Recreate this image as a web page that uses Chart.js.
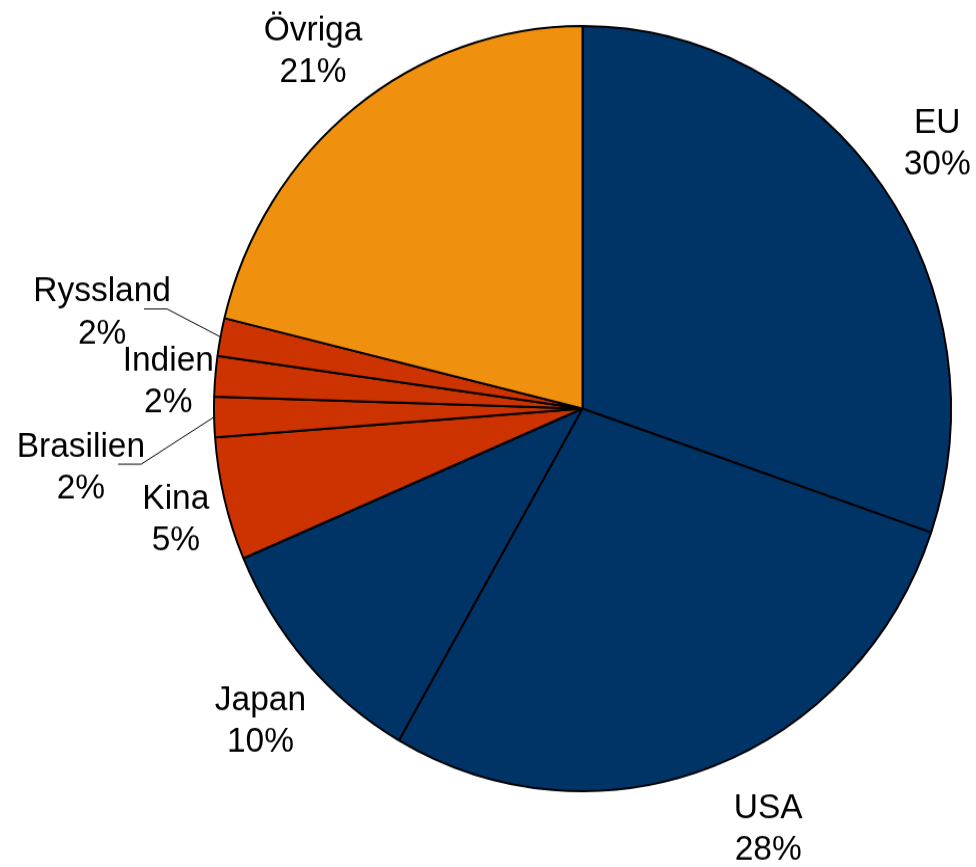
<!DOCTYPE html>
<html>
<head>
<meta charset="utf-8">
<script src="https://cdn.jsdelivr.net/npm/chart.js@4.4.0/dist/chart.umd.min.js"></script>
<style>
    html { margin:0; padding:0; overflow:hidden; background:#ffffff; }
    body { margin:0; padding:0; height:867px; background:#ffffff; }
    #Grafico1 { display:block; transform-origin:0 0; transform:scaleY(1.0383); }
</style>
</head>
<body>
<canvas id="Grafico1" width="976" height="835"></canvas>
<script>
// andelar (procent)
const kategorier = ['EU','USA','Japan','Kina','Brasilien','Indien','Ryssland','Övriga'];
const andelar = [30.25, 28.05, 10.3, 5.2, 1.7, 1.7, 1.6, 21.2];
const procentEtiketter = ['30%','28%','10%','5%','2%','2%','2%','21%'];

const BLA = '#003366';
const ROD = '#CC3300';
const ORANGE = '#F0900F';
let farger = [BLA, BLA, BLA, ROD, ROD, ROD, ROD, ORANGE];

// etikettplacering: extra avstånd från kanten, vridning i grader, linje ja/nej
let etikettAvstand = [63, 86, 79, 54.5, 137.5, 46, 119, 61];
let etikettVridning = [0.85, -3.5, -2.4, -2.3, -6.3, -2.6, -1, -0.7];
let ledarLinje = [false, false, false, false, true, false, true, false];

const etiketter = {
    id: 'etiketter',
    afterDatasetsDraw(chart){
        let ctx = chart.ctx;
        let meta = chart.getDatasetMeta(0);
        ctx.save();
        ctx.font = '33.5px "Liberation Sans", Arial, sans-serif';
        ctx.fillStyle = '#000000';
        ctx.textAlign = 'center';
        ctx.textBaseline = 'alphabetic';
        meta.data.forEach((arc, i) => {
            let p = arc.getProps(['x','y','startAngle','endAngle','outerRadius'], true);
            let mitt = (p.startAngle + p.endAngle) / 2;
            let vinkel = mitt + etikettVridning[i] * Math.PI / 180;
            let r = p.outerRadius + etikettAvstand[i];
            let cx = p.x + Math.cos(vinkel) * r;
            let cy = p.y + Math.sin(vinkel) * r;
            ctx.fillText(kategorier[i], cx, cy - 20.1);
            ctx.fillText(procentEtiketter[i], cx, cy + 20.1);
            if(ledarLinje[i]){
                let hoger = cx + ctx.measureText(kategorier[i]).width / 2;
                let ly = cy - 13;
                ctx.beginPath();
                ctx.strokeStyle = '#000000';
                ctx.lineWidth = 1;
                ctx.moveTo(hoger - 27, ly);
                ctx.lineTo(hoger - 4, ly);
                ctx.lineTo(p.x + Math.cos(mitt) * p.outerRadius, p.y + Math.sin(mitt) * p.outerRadius);
                ctx.stroke();
            }
        });
        ctx.restore();
    }
};

let CanvasG1 = document.getElementById('Grafico1').getContext('2d');
let datos = {
    labels: kategorier,
    datasets: [{
        data: andelar,
        backgroundColor: farger,
        borderColor: '#000000',
        borderWidth: 2,
        hoverOffset: 0,
        offset: 0
    }]
};
let opciones = {
    responsive: false,
    maintainAspectRatio: false,
    devicePixelRatio: 1,
    animation: false,
    layout: { padding: { left: 213, right: 24, top: 24, bottom: 72 } },
    plugins: {
        legend: { display: false },
        tooltip: { enabled: false }
    }
};
let G1 = new Chart(CanvasG1, {
    type: 'pie',
    data: datos,
    options: opciones,
    plugins: [etiketter]
});
</script>
</body>
</html>
